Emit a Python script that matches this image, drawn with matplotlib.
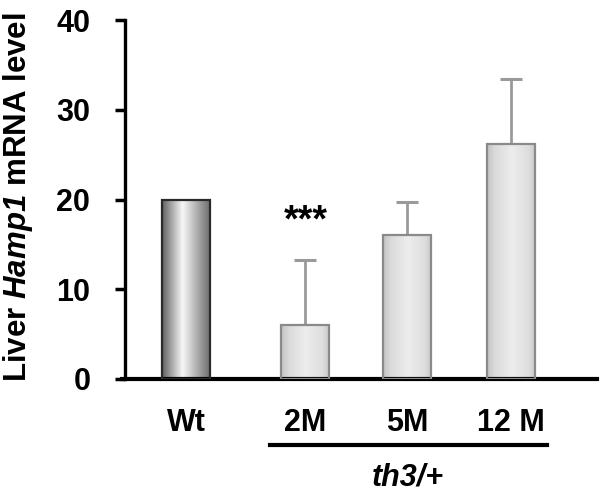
import numpy as np
import matplotlib
matplotlib.use("Agg")
import matplotlib.pyplot as plt
from matplotlib.lines import Line2D

categories = ["Wt", "2M", "5M", "12M"]
tick_labels = ["Wt", "2M", "5M", "12 M"]
values = [20.0, 6.0, 16.1, 26.2]
errors_up = [0.0, 7.3, 3.6, 7.2]
yticks = [0, 10, 20, 30, 40]
group_label = "th3/+"
signif = "***"

# layout
xpos = [0.0, 1.16, 2.15, 3.155]
width = 0.466

plt.rcParams['font.family'] = ['Liberation Sans', 'DejaVu Sans']
plt.rcParams['font.weight'] = 'bold'
plt.rcParams['mathtext.fontset'] = 'custom'
plt.rcParams['mathtext.it'] = 'Liberation Sans:italic:bold'
plt.rcParams['mathtext.rm'] = 'Liberation Sans:italic:bold'
plt.rcParams['mathtext.bf'] = 'Liberation Sans:italic:bold'

fig = plt.figure(figsize=(6.01, 4.92), dpi=100)
ax = fig.add_axes([125/601, 1-379/492, (597-125)/601, (379-20)/492])

def grad_img(stops, vals, n=200):
    t = np.linspace(0, 1, n)
    g = np.interp(t, stops, vals)
    return np.dstack([g, g, g]).reshape(1, n, 3)

wt_grad = grad_img([0, 0.12, 0.42, 0.8, 1], [0.38, 0.55, 0.97, 0.6, 0.42])
oth_grad = grad_img([0, 0.15, 0.5, 0.85, 1], [0.76, 0.85, 0.93, 0.87, 0.78])

edgecols = ['#2a2a2a', '#8a8a8a', '#8a8a8a', '#8a8a8a']
bars = ax.bar(xpos, values, width=width, facecolor='none', edgecolor=edgecols,
              linewidth=1.6, zorder=3)
for i, b in enumerate(bars):
    x0 = b.get_x(); x1 = x0 + b.get_width(); h = b.get_height()
    im = ax.imshow(wt_grad if i == 0 else oth_grad, extent=[x0, x1, 0, h],
                   aspect='auto', zorder=2, interpolation='bilinear')
    im.set_clip_path(b)

ax.errorbar(xpos[1:], values[1:], yerr=[np.zeros(3), errors_up[1:]], fmt='none',
            ecolor='#9a9a9a', elinewidth=2.0, capsize=8, capthick=2.2, zorder=1)

ax.set_xlim(-0.592, 3.99)
ax.set_ylim(0, 40)
ax.set_yticks(yticks)
ax.set_yticklabels([str(v) for v in yticks], fontsize=22, fontweight='bold')
ax.set_xticks(xpos)
ax.set_xticklabels(tick_labels, fontsize=22, fontweight='bold')
ax.tick_params(axis='x', length=0, pad=21)
ax.tick_params(axis='y', direction='out', length=7, width=2.5, pad=18)

for s in ['top', 'right']:
    ax.spines[s].set_visible(False)
ax.spines['left'].set_linewidth(2.4)
ax.spines['bottom'].set_linewidth(3.0)
ax.spines['bottom'].set_bounds(-0.62, 3.99)

ax.text(xpos[1], 17.6, signif, ha='center', va='center',
        fontsize=27, fontweight='bold')

fig.text(18/601, 1-197/492, "Liver $\\mathit{Hamp1}$ mRNA level", rotation=90,
         ha='center', va='center', fontsize=22.5, fontweight='bold')

fig.add_artist(Line2D([270/601, 547/601], [1-445/492, 1-445/492], color='black',
                      linewidth=3.0, transform=fig.transFigure))
fig.text(408/601, 1-478/492, group_label, ha='center', va='center', fontsize=22,
         fontweight='bold', style='italic')

fig.savefig("out.png", dpi=100)
